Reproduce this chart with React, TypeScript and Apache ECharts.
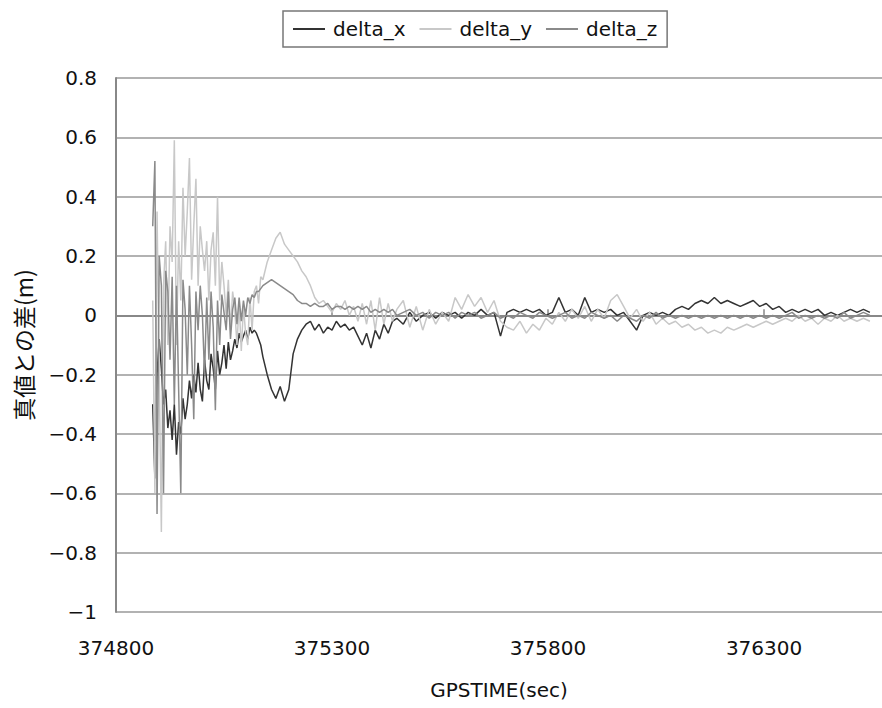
import React, { useEffect, useRef } from "react";
import * as echarts from "echarts";

// GPS time (sec)
const gpsTime = [
  374885, 374890, 374895, 374900, 374905, 374910, 374915, 374920, 374925, 374930,
  374935, 374940, 374945, 374950, 374955, 374960, 374965, 374970, 374975, 374980,
  374985, 374990, 374995, 375000, 375005, 375010, 375015, 375020, 375025, 375030,
  375035, 375040, 375045, 375050, 375055, 375060, 375065, 375070, 375075, 375080,
  375085, 375090, 375095, 375100, 375105, 375110, 375115, 375120, 375125, 375130,
  375135, 375140,
  375150, 375160, 375170, 375180, 375190, 375200, 375210, 375220, 375230, 375240,
  375250, 375260, 375270, 375280, 375290, 375300, 375310, 375320, 375330, 375340,
  375350, 375360, 375370, 375380, 375390, 375400, 375410, 375420, 375430, 375440,
  375450,
  375465, 375480, 375495, 375510, 375525, 375540, 375555, 375570, 375585, 375600,
  375615, 375630, 375645, 375660, 375675, 375690, 375705, 375720, 375735, 375750,
  375765, 375780, 375795, 375810, 375825, 375840, 375855, 375870, 375885, 375900,
  375915, 375930, 375945, 375960, 375975, 375990, 376005, 376020, 376035, 376050,
  376065, 376080, 376095, 376110, 376125, 376140, 376155, 376170, 376185, 376200,
  376215, 376230, 376245, 376260, 376275, 376290, 376305, 376320, 376335, 376350,
  376365, 376380, 376395, 376410, 376425, 376440, 376455, 376470, 376485, 376500,
  376515, 376530, 376545,
];

const deltaX = [
  -0.30, -0.55, -0.20, -0.08, -0.18, -0.30, -0.25, -0.38, -0.32, -0.42,
  -0.30, -0.47, -0.36, -0.40, -0.28, -0.35, -0.30, -0.22, -0.28, -0.20,
  -0.26, -0.16, -0.25, -0.29, -0.15, -0.22, -0.25, -0.13, -0.18, -0.25,
  -0.12, -0.20, -0.16, -0.10, -0.18, -0.09, -0.15, -0.12, -0.08, -0.11,
  -0.06, -0.09, -0.07, -0.05, -0.08, -0.04, -0.06, -0.05, -0.06, -0.08,
  -0.10, -0.14,
  -0.20, -0.25, -0.28, -0.24, -0.29, -0.25, -0.13, -0.08, -0.05, -0.03,
  -0.02, -0.05, -0.03, -0.06, -0.04, -0.05, -0.02, -0.04, -0.03, -0.05,
  -0.04, -0.07, -0.10, -0.06, -0.11, -0.05, -0.08, -0.03, -0.06, -0.02,
  -0.01,
  -0.03, 0.01, -0.02, 0.00, 0.01, -0.01, 0.01, 0.00, 0.01, -0.01,
  0.01, 0.00, 0.02, 0.00, 0.01, -0.07, 0.01, 0.02, 0.01, 0.02,
  0.01, 0.02, 0.00, 0.01, 0.06, 0.01, 0.02, 0.00, 0.06, 0.01,
  0.02, 0.01, 0.02, 0.00, 0.01, -0.02, -0.05, 0.00, 0.01, 0.00,
  0.01, 0.00, 0.02, 0.03, 0.02, 0.04, 0.05, 0.04, 0.06, 0.04,
  0.05, 0.04, 0.03, 0.04, 0.05, 0.03, 0.04, 0.02, 0.03, 0.01,
  0.02, 0.01, 0.02, 0.01, 0.02, 0.00, 0.01, 0.00, 0.01, 0.02,
  0.01, 0.02, 0.01,
];

const deltaY = [
  0.05, -0.60, 0.35, -0.20, -0.73, 0.10, 0.25, -0.10, 0.30, 0.18,
  0.59, -0.10, 0.25, 0.05, 0.43, 0.20, 0.35, 0.53, 0.12, 0.30,
  0.46, 0.10, 0.30, 0.22, 0.15, 0.25, 0.05, 0.22, 0.28, 0.10,
  0.40, 0.05, 0.18, 0.10, 0.00, 0.12, -0.05, 0.08, 0.02, -0.10,
  0.04, -0.12, 0.03, -0.06, -0.10, 0.06, -0.05, 0.08, 0.10, 0.04,
  0.13, 0.12,
  0.18, 0.22, 0.26, 0.28, 0.24, 0.22, 0.20, 0.18, 0.15, 0.13,
  0.10, 0.06, 0.04, 0.05, 0.03, 0.01, 0.04, 0.02, 0.05, 0.00,
  0.03, -0.02, 0.04, -0.03, 0.05, -0.05, 0.06, -0.03, 0.04, -0.02,
  0.02,
  0.05, -0.04, 0.03, -0.05, 0.02, -0.03, 0.01, -0.02, 0.06, 0.02,
  0.07, 0.03, 0.06, 0.01, 0.05, -0.02, -0.04, -0.05, -0.02, -0.06,
  -0.03, -0.05, -0.01, -0.03, 0.01, -0.02, 0.02, -0.01, 0.03, -0.02,
  0.02, -0.01, 0.05, 0.07, 0.03, -0.01, 0.02, -0.02, 0.01, -0.03,
  -0.01, -0.03, -0.02, -0.04, -0.03, -0.05, -0.04, -0.06, -0.05, -0.06,
  -0.04, -0.05, -0.04, -0.03, -0.04, -0.03, -0.02, -0.03, -0.02, -0.01,
  -0.02, 0.00, -0.02, -0.01, -0.03, -0.01, -0.02, 0.00, -0.02, -0.01,
  -0.02, -0.01, -0.02,
];

const deltaZ = [
  0.30, 0.52, -0.67, 0.20, 0.10, -0.60, 0.15, 0.08, -0.15, 0.13,
  -0.30, 0.10, -0.25, -0.60, 0.12, 0.02, -0.20, 0.10, -0.10, -0.35,
  0.08, -0.05, 0.10, 0.00, -0.20, 0.06, -0.15, 0.08, -0.04, -0.32,
  0.05, -0.10, 0.07, 0.01, -0.05, 0.08, -0.08, 0.02, 0.06, -0.03,
  0.06, -0.02, 0.05, 0.00, 0.06, 0.04, 0.07, 0.06, 0.08, 0.08,
  0.09, 0.10,
  0.11, 0.12, 0.11, 0.10, 0.09, 0.08, 0.07, 0.05, 0.04, 0.04,
  0.03, 0.04, 0.03, 0.03, 0.04, 0.02, 0.03, 0.03, 0.02, 0.03,
  0.02, 0.03, 0.02, 0.03, 0.01, 0.02, 0.01, 0.02, 0.01, 0.02,
  0.00,
  0.01, 0.02, 0.00, 0.01, -0.01, 0.01, 0.00, 0.01, -0.01, 0.01,
  0.00, 0.01, -0.01, 0.00, 0.01, -0.01, 0.00, -0.01, 0.01, 0.00,
  -0.01, 0.01, 0.00, -0.01, 0.00, 0.01, -0.01, 0.00, -0.01, 0.01,
  0.00, -0.01, 0.00, -0.02, 0.00, -0.01, -0.02, 0.00, -0.01, 0.01,
  -0.01, 0.00, -0.01, 0.00, -0.01, 0.00, -0.01, 0.00, -0.01, 0.00,
  -0.01, 0.00, -0.01, 0.00, -0.01, 0.00, -0.01, 0.00, -0.01, 0.00,
  0.01, -0.01, 0.00, -0.01, 0.00, -0.01, 0.00, -0.01, 0.01, -0.01,
  0.00, 0.01, 0.00,
];

const seriesNames = ["delta_x", "delta_y", "delta_z"];
const seriesColors = ["#333333", "#c8c8c8", "#8a8a8a"];
const xAxisTitle = "GPSTIME(sec)";
const yAxisTitle = "真値との差(m)";

const FONT = "'DejaVu Sans', sans-serif";

export default function App() {
  const ref = useRef<HTMLDivElement>(null);
  useEffect(() => {
    if (!ref.current) return;
    const chart = echarts.init(ref.current, null, { renderer: "svg" });
    const values = [deltaX, deltaY, deltaZ];
    chart.setOption({
      animation: false,
      backgroundColor: "#ffffff",
      legend: {
        top: 11,
        left: 283,
        data: seriesNames,
        icon: "rect",
        borderColor: "#777",
        borderWidth: 1.5,
        padding: [8, 10, 8, 10],
        itemGap: 14,
        itemWidth: 32,
        itemHeight: 2,
        textStyle: { fontFamily: FONT, fontSize: 20, color: "#111", padding: [0, 0, 0, 3] },
      },
      grid: { left: 116, top: 78, right: 0, bottom: 96 },
      xAxis: {
        type: "value",
        min: 374800,
        max: 376573,
        interval: 500,
        name: xAxisTitle,
        nameLocation: "middle",
        nameGap: 68,
        nameTextStyle: { fontFamily: FONT, fontSize: 20, color: "#111" },
        axisLine: { show: true, lineStyle: { color: "#888", width: 2 } },
        axisTick: { show: true, inside: true, length: 6, lineStyle: { color: "#888", width: 1.5 } },
        axisLabel: {
          fontFamily: FONT,
          fontSize: 20,
          color: "#111",
          margin: 26,
          showMaxLabel: false,
          formatter: (v: number) => String(Math.round(v)),
        },
        splitLine: { show: false },
      },
      yAxis: {
        type: "value",
        min: -1,
        max: 0.8,
        interval: 0.2,
        name: yAxisTitle,
        nameLocation: "middle",
        nameGap: 82,
        nameRotate: 90,
        nameTextStyle: { fontFamily: "'Noto Sans CJK JP', sans-serif", fontSize: 23, color: "#111" },
        axisLine: { show: true, lineStyle: { color: "#888", width: 2 } },
        axisTick: { show: false },
        axisLabel: {
          fontFamily: FONT,
          fontSize: 20,
          color: "#111",
          margin: 19,
          formatter: (v: number) => {
            const r = Math.round(v * 10) / 10;
            return r < 0 ? "\u2212" + String(Math.abs(r)) : String(r);
          },
        },
        splitLine: { show: true, lineStyle: { color: "#999", width: 1.5 } },
      },
      series: seriesNames.map((name, i) => ({
        name,
        type: "line",
        symbol: "none",
        data: gpsTime.map((t, j) => [t, values[i][j]]),
        lineStyle: { color: seriesColors[i], width: 1.5 },
        itemStyle: { color: seriesColors[i] },
      })),
    });
    return () => chart.dispose();
  }, []);
  return (
    <div
      ref={ref}
      style={{ position: "fixed", left: 0, top: 0, width: 882, height: 708, background: "#fff" }}
    />
  );
}
